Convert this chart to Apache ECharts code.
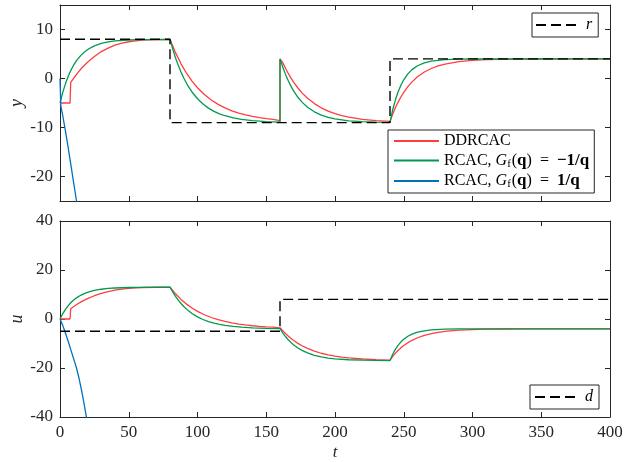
<!DOCTYPE html>
<html><head><meta charset="utf-8">
<script src="https://cdn.jsdelivr.net/npm/echarts@6/dist/echarts.min.js"></script>
<style>html,body{margin:0;padding:0;background:#fff}#c{width:634px;height:462px}</style>
</head><body><div id="c"></div><script>
// ---- data ----
const xTicks = [0, 50, 100, 150, 200, 250, 300, 350, 400];
const yTicks = [-20, -10, 0, 10];
const uTicks = [-40, -20, 0, 20, 40];

const refR = [[0, 8], [80, 8], [80, -9], [240, -9], [240, 4], [400, 4]];
const distD = [[0, -5], [160, -5], [160, 8], [400, 8]];

// green: RCAC, Gf = -1/q
const greenUt = [0,2,4,6,8,10,12,15,18,21,25,30,35,40,50,60,80,
  82,84,86,88,90,93,96,100,104,108,112,116,120,126,132,140,150,160,
  162,164,166,168,170,173,176,180,185,190,195,200,210,220,230,240,
  242,244,246,248,250,253,256,260,265,270,280,290,300,400];
const greenU = [0,2.16,3.96,5.46,6.72,7.76,8.63,9.67,10.47,11.07,11.66,12.15,12.46,12.66,12.86,12.94,13.0,
  11.0,9.24,7.68,6.32,5.10,3.53,2.25,0.87,-0.21,-1.05,-1.70,-2.21,-2.60,-3.04,-3.34,-3.60,-3.80,-3.89,
  -5.64,-7.16,-8.47,-9.60,-10.58,-11.83,-12.82,-13.86,-14.80,-15.47,-15.93,-16.25,-16.63,-16.82,-16.91,-16.95,
  -14.37,-12.30,-10.64,-9.32,-8.26,-7.06,-6.19,-5.40,-4.81,-4.46,-4.15,-4.05,-4.02,-4.0];
const greenYt = [0,2,4,6,8,10,12,15,18,21,25,30,35,40,50,60,80,
  82,84,86,88,90,93,96,100,104,108,112,116,120,126,132,140,150,160,
  160,162,164,166,168,170,173,176,180,185,190,195,200,210,220,230,240,
  242,244,246,248,250,253,256,260,265,270,280,290,300,400];
const greenY = [-5,-2.84,-1.04,0.46,1.72,2.76,3.63,4.67,5.47,6.07,6.66,7.15,7.46,7.66,7.86,7.94,8.0,
  6.0,4.24,2.68,1.32,0.10,-1.47,-2.75,-4.13,-5.21,-6.05,-6.70,-7.21,-7.60,-8.04,-8.34,-8.60,-8.80,-8.89,
  4.0,2.36,0.84,-0.47,-1.60,-2.58,-3.83,-4.82,-5.86,-6.80,-7.47,-7.93,-8.25,-8.63,-8.82,-8.91,-8.95,
  -6.37,-4.30,-2.64,-1.32,-0.26,0.94,1.81,2.60,3.19,3.54,3.85,3.95,3.98,4.0];

// red: DDRCAC
const redUt = [0,7.3,7.8,10,13,16,20,25,30,35,40,45,50,55,60,70,80,
  84,88,92,96,100,105,110,115,120,125,130,135,140,145,150,155,160,
  162,164,166,168,170,173,176,180,185,190,195,200,205,210,220,230,240,
  242,244,246,248,250,253,256,260,265,270,275,280,290,300,310,320,340,400];
const redU = [0,0,4.2,5.1,6.2,7.2,8.3,9.5,10.5,11.2,11.8,12.2,12.5,12.7,12.85,12.95,13.0,
  10.28,8.0,6.08,4.48,3.12,1.73,0.61,-0.29,-1.01,-1.60,-2.07,-2.44,-2.75,-2.99,-3.19,-3.35,-3.6,
  -4.76,-5.92,-6.97,-7.93,-8.79,-9.94,-10.93,-12.02,-13.12,-13.98,-14.65,-15.17,-15.58,-15.89,-16.33,-16.59,-16.75,
  -15.25,-13.93,-12.76,-11.73,-10.83,-9.66,-8.69,-7.65,-6.67,-5.96,-5.43,-5.05,-4.56,-4.30,-4.16,-4.09,-4.02,-4.0];
const redYt = [0,7.3,7.8,10,13,16,20,25,30,35,40,45,50,55,60,70,80,
  84,88,92,96,100,105,110,115,120,125,130,135,140,145,150,155,160,
  160,162,164,166,168,170,173,176,180,185,190,195,200,205,210,220,230,240,
  242,244,246,248,250,253,256,260,265,270,275,280,290,300,310,320,340,400];
const redY = [-5,-5,-0.8,0.1,1.2,2.2,3.3,4.5,5.5,6.2,6.8,7.2,7.5,7.7,7.85,7.95,8.0,
  5.28,3.0,1.08,-0.52,-1.88,-3.27,-4.39,-5.29,-6.01,-6.60,-7.07,-7.44,-7.75,-7.99,-8.19,-8.35,-8.6,
  4.0,3.24,2.08,1.03,0.07,-0.79,-1.94,-2.93,-4.02,-5.12,-5.98,-6.65,-7.17,-7.58,-7.89,-8.33,-8.59,-8.75,
  -7.25,-5.93,-4.76,-3.73,-2.83,-1.66,-0.69,0.35,1.33,2.04,2.57,2.95,3.44,3.70,3.84,3.91,3.98,4.0];

// blue: RCAC, Gf = 1/q
const blueUt = [0,2,4,6,8,10,12,14,16,18,20];
const blueU = [0,-2.6,-5.8,-9.2,-12.8,-16.4,-20,-24.6,-30,-36.2,-42.5];
const blueYt = [0,0.6,2,4,6,8,10,12,14];
const blueY = [0,-5.6,-7.6,-10.8,-14.2,-17.8,-21.4,-25,-29.6];

// ---- build chart ----
const zip = (t, v) => t.map((x, i) => [x, v[i]]);
const FONT = 'Liberation Serif';
const AX = '#262626';
const C_RED = '#ff3d3d', C_GREEN = '#009a4e', C_BLUE = '#0072bd';
const names = {red: 'DDRCAC', green: 'RCAC-', blue: 'RCAC+'};

function xAx(grid, pos, labels) {
  const a = {
    type: 'value', gridIndex: grid, position: pos, min: 0, max: 400, interval: 50,
    axisLine: {show: true, onZero: false, lineStyle: {color: AX, width: 1}},
    axisTick: {show: true, inside: true, length: 5, lineStyle: {color: AX}},
    axisLabel: {show: labels, color: AX, fontFamily: FONT, fontSize: 17, margin: 7},
    splitLine: {show: false}
  };
  if (labels) {
    a.name = 't'; a.nameLocation = 'middle'; a.nameGap = 27;
    a.nameTextStyle = {fontFamily: FONT, fontStyle: 'italic', fontSize: 17, color: AX};
  }
  return a;
}
function yAx(grid, pos, min, max, ticks, name) {
  const a = {
    type: 'value', gridIndex: grid, position: pos, min: min, max: max,
    axisLine: {show: true, onZero: false, lineStyle: {color: AX, width: 1}},
    axisTick: {show: true, inside: true, length: 5, lineStyle: {color: AX}, customValues: ticks},
    axisLabel: {show: !!name, color: AX, fontFamily: FONT, fontSize: 17, margin: 7, customValues: ticks},
    splitLine: {show: false}
  };
  if (name) {
    a.name = name; a.nameLocation = 'middle'; a.nameGap = 34; a.nameRotate = 90;
    a.nameMoveOverlap = false;
    a.nameTextStyle = {fontFamily: FONT, fontStyle: 'italic', fontSize: 18, color: AX};
  }
  return a;
}
function ln(name, color, data, xi, yi, dashed, z) {
  return {
    type: 'line', name: name, xAxisIndex: xi, yAxisIndex: yi, data: data,
    symbol: 'none', showSymbol: false, clip: true, z: z,
    lineStyle: {color: color, width: dashed ? 1.4 : 1.3, type: dashed ? [10, 5] : 'solid'},
    itemStyle: {color: color}, emphasis: {disabled: true}
  };
}
const legBase = {
  orient: 'vertical', backgroundColor: '#fff', borderColor: AX, borderWidth: 1,
  itemWidth: 45, itemHeight: 14, selectedMode: false,
  itemStyle: {opacity: 0, borderWidth: 0},
  textStyle: {fontFamily: FONT, fontSize: 16, color: '#000'}
};
const chart = echarts.init(document.getElementById('c'), null, {renderer: 'canvas'});
chart.setOption({
  animation: false,
  grid: [
    {left: 60, top: 5, width: 550, height: 196, outerBoundsMode: 'none', containLabel: false},
    {left: 60, top: 221, width: 550, height: 196, outerBoundsMode: 'none', containLabel: false}
  ],
  xAxis: [xAx(0, 'bottom', false), xAx(0, 'top', false), xAx(1, 'bottom', true), xAx(1, 'top', false)],
  yAxis: [yAx(0, 'left', -25, 15, yTicks, 'y'), yAx(0, 'right', -25, 15, yTicks, null),
          yAx(1, 'left', -40, 40, uTicks, 'u'), yAx(1, 'right', -40, 40, uTicks, null)],
  legend: [
    Object.assign({}, legBase, {data: ['r'], left: 532, top: 13, padding: [4, 6, 4, 3], itemGap: 4,
      textStyle: {fontFamily: FONT, fontSize: 16, fontStyle: 'italic', color: '#000'}}),
    Object.assign({}, legBase, {data: ['d'], left: 530, top: 385, padding: [4, 6, 4, 4],
      textStyle: {fontFamily: FONT, fontSize: 16, fontStyle: 'italic', color: '#000'}}),
    Object.assign({}, legBase, {
      data: [names.red, names.green, names.blue], left: 388, top: 130, padding: [3, 5, 3, 5], itemGap: 3,
      formatter: function (n) {
        if (n === names.green) return 'RCAC, {i|G}{s|f}({b|q})\u2002=\u2002{b|\u22121/q}';
        if (n === names.blue) return 'RCAC, {i|G}{s|f}({b|q})\u2002=\u2002{b|1/q}';
        return n;
      },
      textStyle: {fontFamily: FONT, fontSize: 16, color: '#000',
        rich: {
          i: {fontFamily: FONT, fontSize: 16, fontStyle: 'italic', color: '#000'},
          b: {fontFamily: FONT, fontSize: 17, fontWeight: 'bold', color: '#000'},
          s: {fontFamily: FONT, fontSize: 11, color: '#000', padding: [7, 1, 0, 0]}
        }}
    })
  ],
  series: [
    ln(names.red, C_RED, zip(redYt, redY), 0, 0, false, 2),
    ln(names.green, C_GREEN, zip(greenYt, greenY), 0, 0, false, 3),
    ln(names.blue, C_BLUE, zip(blueYt, blueY), 0, 0, false, 4),
    ln('r', '#000', refR, 0, 0, true, 5),
    ln(names.red, C_RED, zip(redUt, redU), 2, 2, false, 2),
    ln(names.green, C_GREEN, zip(greenUt, greenU), 2, 2, false, 3),
    ln(names.blue, C_BLUE, zip(blueUt, blueU), 2, 2, false, 4),
    ln('d', '#000', distD, 2, 2, true, 5)
  ]
});
</script></body></html>
